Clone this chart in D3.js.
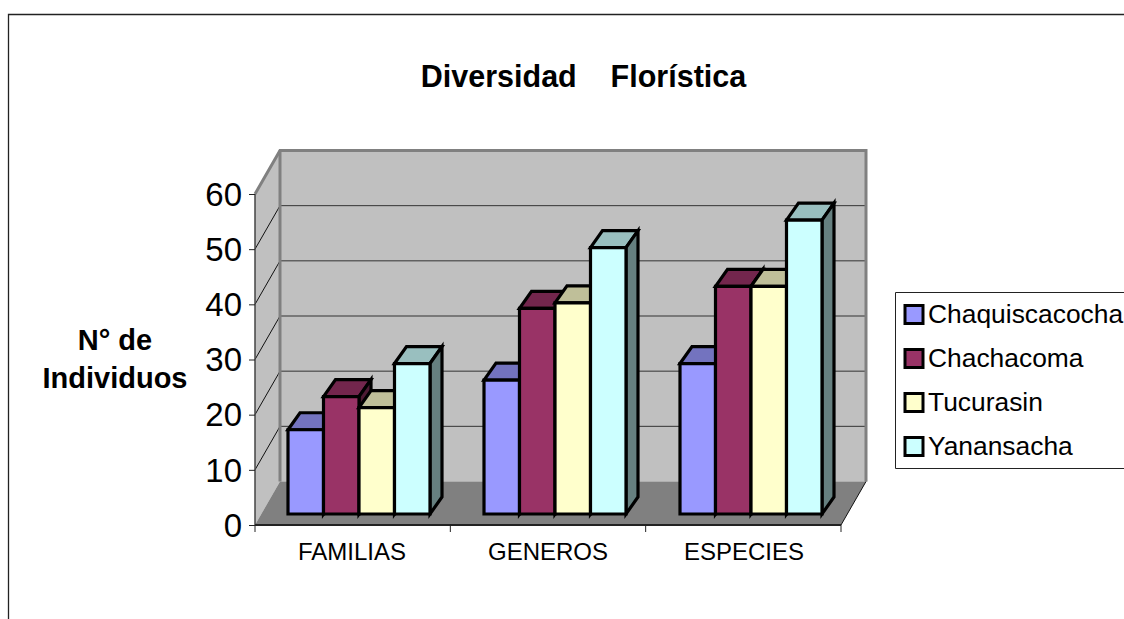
<!DOCTYPE html>
<html><head><meta charset="utf-8">
<script src="https://cdnjs.cloudflare.com/ajax/libs/d3/7.8.5/d3.min.js"></script>
<style>html,body{margin:0;padding:0;background:#fff;overflow:hidden}text{font-family:"Liberation Sans",Arial,sans-serif;fill:#000}</style>
</head><body><svg id="c" width="1124" height="619"></svg>
<script>
const categories = ["FAMILIAS","GENEROS","ESPECIES"];
const seriesNames = ["Chaquiscacocha","Chachacoma","Tucurasin","Yanansacha"];
const chaquiscacocha = [16,25,28];
const chachacoma = [22,38,42];
const tucurasin = [20,39,42];
const yanansacha = [28,49,54];
const seriesValues = [chaquiscacocha,chachacoma,tucurasin,yanansacha];
const seriesColors = ["#9999FF","#993366","#FFFFCC","#CCFFFF"];
const yTicks = [0,10,20,30,40,50,60];

const svg = d3.select("#c");
const L=255,R=841,B=525,T=194,DX=25,DY=-43.5;
const y = d3.scaleLinear().domain([0,60]).range([B,T]);
const xBand = d3.scaleBand().domain(categories).range([254,842]);
const xGroup = d3.scaleBand().domain(categories).range([261,849]);
const xSer = d3.scaleBand().domain(seriesNames).range([0,142]);
const poly=(pts,fill,stroke,sw)=>svg.append("polygon").attr("points",pts.map(p=>p.join(",")).join(" "))
  .attr("fill",fill).attr("stroke",stroke||"none").attr("stroke-width",sw||0).attr("stroke-linejoin","miter");
const line=(x1,y1,x2,y2,c,w)=>svg.append("line").attr("x1",x1).attr("y1",y1).attr("x2",x2).attr("y2",y2).attr("stroke",c).attr("stroke-width",w);

// outer frame, clipped by the window on the right and bottom
svg.append("path").attr("d","M1124,14.5H8.5V619").attr("fill","none").attr("stroke","#222").attr("stroke-width",1.3);

// walls and floor
poly([[L+DX,T+DY],[R+DX,T+DY],[R+DX,B+DY],[L+DX,B+DY]],"#C0C0C0");
poly([[L,T],[L+DX,T+DY],[L+DX,B+DY],[L,B]],"#C0C0C0");
poly([[L,B],[L+DX,B+DY],[R+DX,B+DY],[R,B]],"#808080");
yTicks.filter(v=>v>0&&v<60).forEach(v=>{
  line(L+DX,y(v)+DY,R+DX,y(v)+DY,"#333",1);
  line(L,y(v),L+DX,y(v)+DY,"#111",1);
});
svg.append("path").attr("d",`M${L},${T}L${L+DX},${T+DY}H${R+DX}V${B+DY}`).attr("fill","none").attr("stroke","#808080").attr("stroke-width",3);
line(L+DX,T+DY,L+DX,B+DY,"#808080",3);
line(R,B,R+DX,B+DY,"#111",1);

// bars
const barBottom=514, topShift=-7, dpX=12, dpY=-17;
const shade=(c,k)=>{const r=d3.rgb(c);return d3.rgb(r.r*k,r.g*k,r.b*k).formatHex();};
categories.forEach((cat,ci)=>{
  const x0=xGroup(cat)+xGroup.bandwidth()/2-71;
  seriesNames.forEach((s,si)=>{
    const xl=x0+xSer(s), xr=xl+xSer.bandwidth();
    const yt=y(seriesValues[si][ci])+topShift;
    const c=seriesColors[si];
    const sw=3.2;
    poly([[xl,yt],[xl+dpX,yt+dpY],[xr+dpX,yt+dpY],[xr,yt]],shade(c,.75),"#000",sw);
    poly([[xr,yt],[xr+dpX,yt+dpY],[xr+dpX,barBottom+dpY],[xr,barBottom]],shade(c,.5),"#000",sw);
    poly([[xl,yt],[xr,yt],[xr,barBottom],[xl,barBottom]],c,"#000",sw);
  });
});

// axes
const ax=svg.append("g").attr("transform",`translate(${L},0)`).call(d3.axisLeft(y).tickValues(yTicks).tickSize(6).tickPadding(7));
ax.selectAll("text").style("font-size","33px").attr("fill","#000").attr("dy","0.34em");
ax.selectAll("line").attr("stroke","#222");
ax.select(".domain").attr("d",`M0,${T}V${B}`).attr("stroke","#444").attr("stroke-width",1.5);
const bx=svg.append("g").attr("transform",`translate(0,${B})`).call(d3.axisBottom(xBand).tickSize(0).tickPadding(18));
bx.selectAll("text").style("font-size","24px").attr("fill","#000");
bx.select(".domain").attr("d",`M${L},0H${R}`).attr("stroke","#222").attr("stroke-width",2);
d3.range(categories.length+1).forEach(i=>line(L+i*(R-L)/categories.length,B,L+i*(R-L)/categories.length,B+7,"#222",1));

// titles
svg.append("text").attr("x",583.5).attr("y",87).attr("text-anchor","middle").attr("font-weight","bold").style("font-size","30.5px").style("white-space","pre").text("Diversidad    Florística");
const yt=svg.append("text").attr("text-anchor","middle").attr("font-weight","bold").style("font-size","29px");
yt.append("tspan").attr("x",115).attr("y",350).text("N° de");
yt.append("tspan").attr("x",115).attr("y",388).text("Individuos");

// legend
svg.append("path").attr("d","M1124,292.5H895.5V468.5H1124").attr("fill","#fff").attr("stroke","#222").attr("stroke-width",1);
seriesNames.forEach((s,i)=>{
  const ly=314.5+i*44;
  svg.append("rect").attr("x",905).attr("y",ly-9).attr("width",18).attr("height",18).attr("fill",seriesColors[i]).attr("stroke","#000").attr("stroke-width",3);
  svg.append("text").attr("x",928).attr("y",ly+8).style("font-size","26.4px").text(s);
});
</script></body></html>
